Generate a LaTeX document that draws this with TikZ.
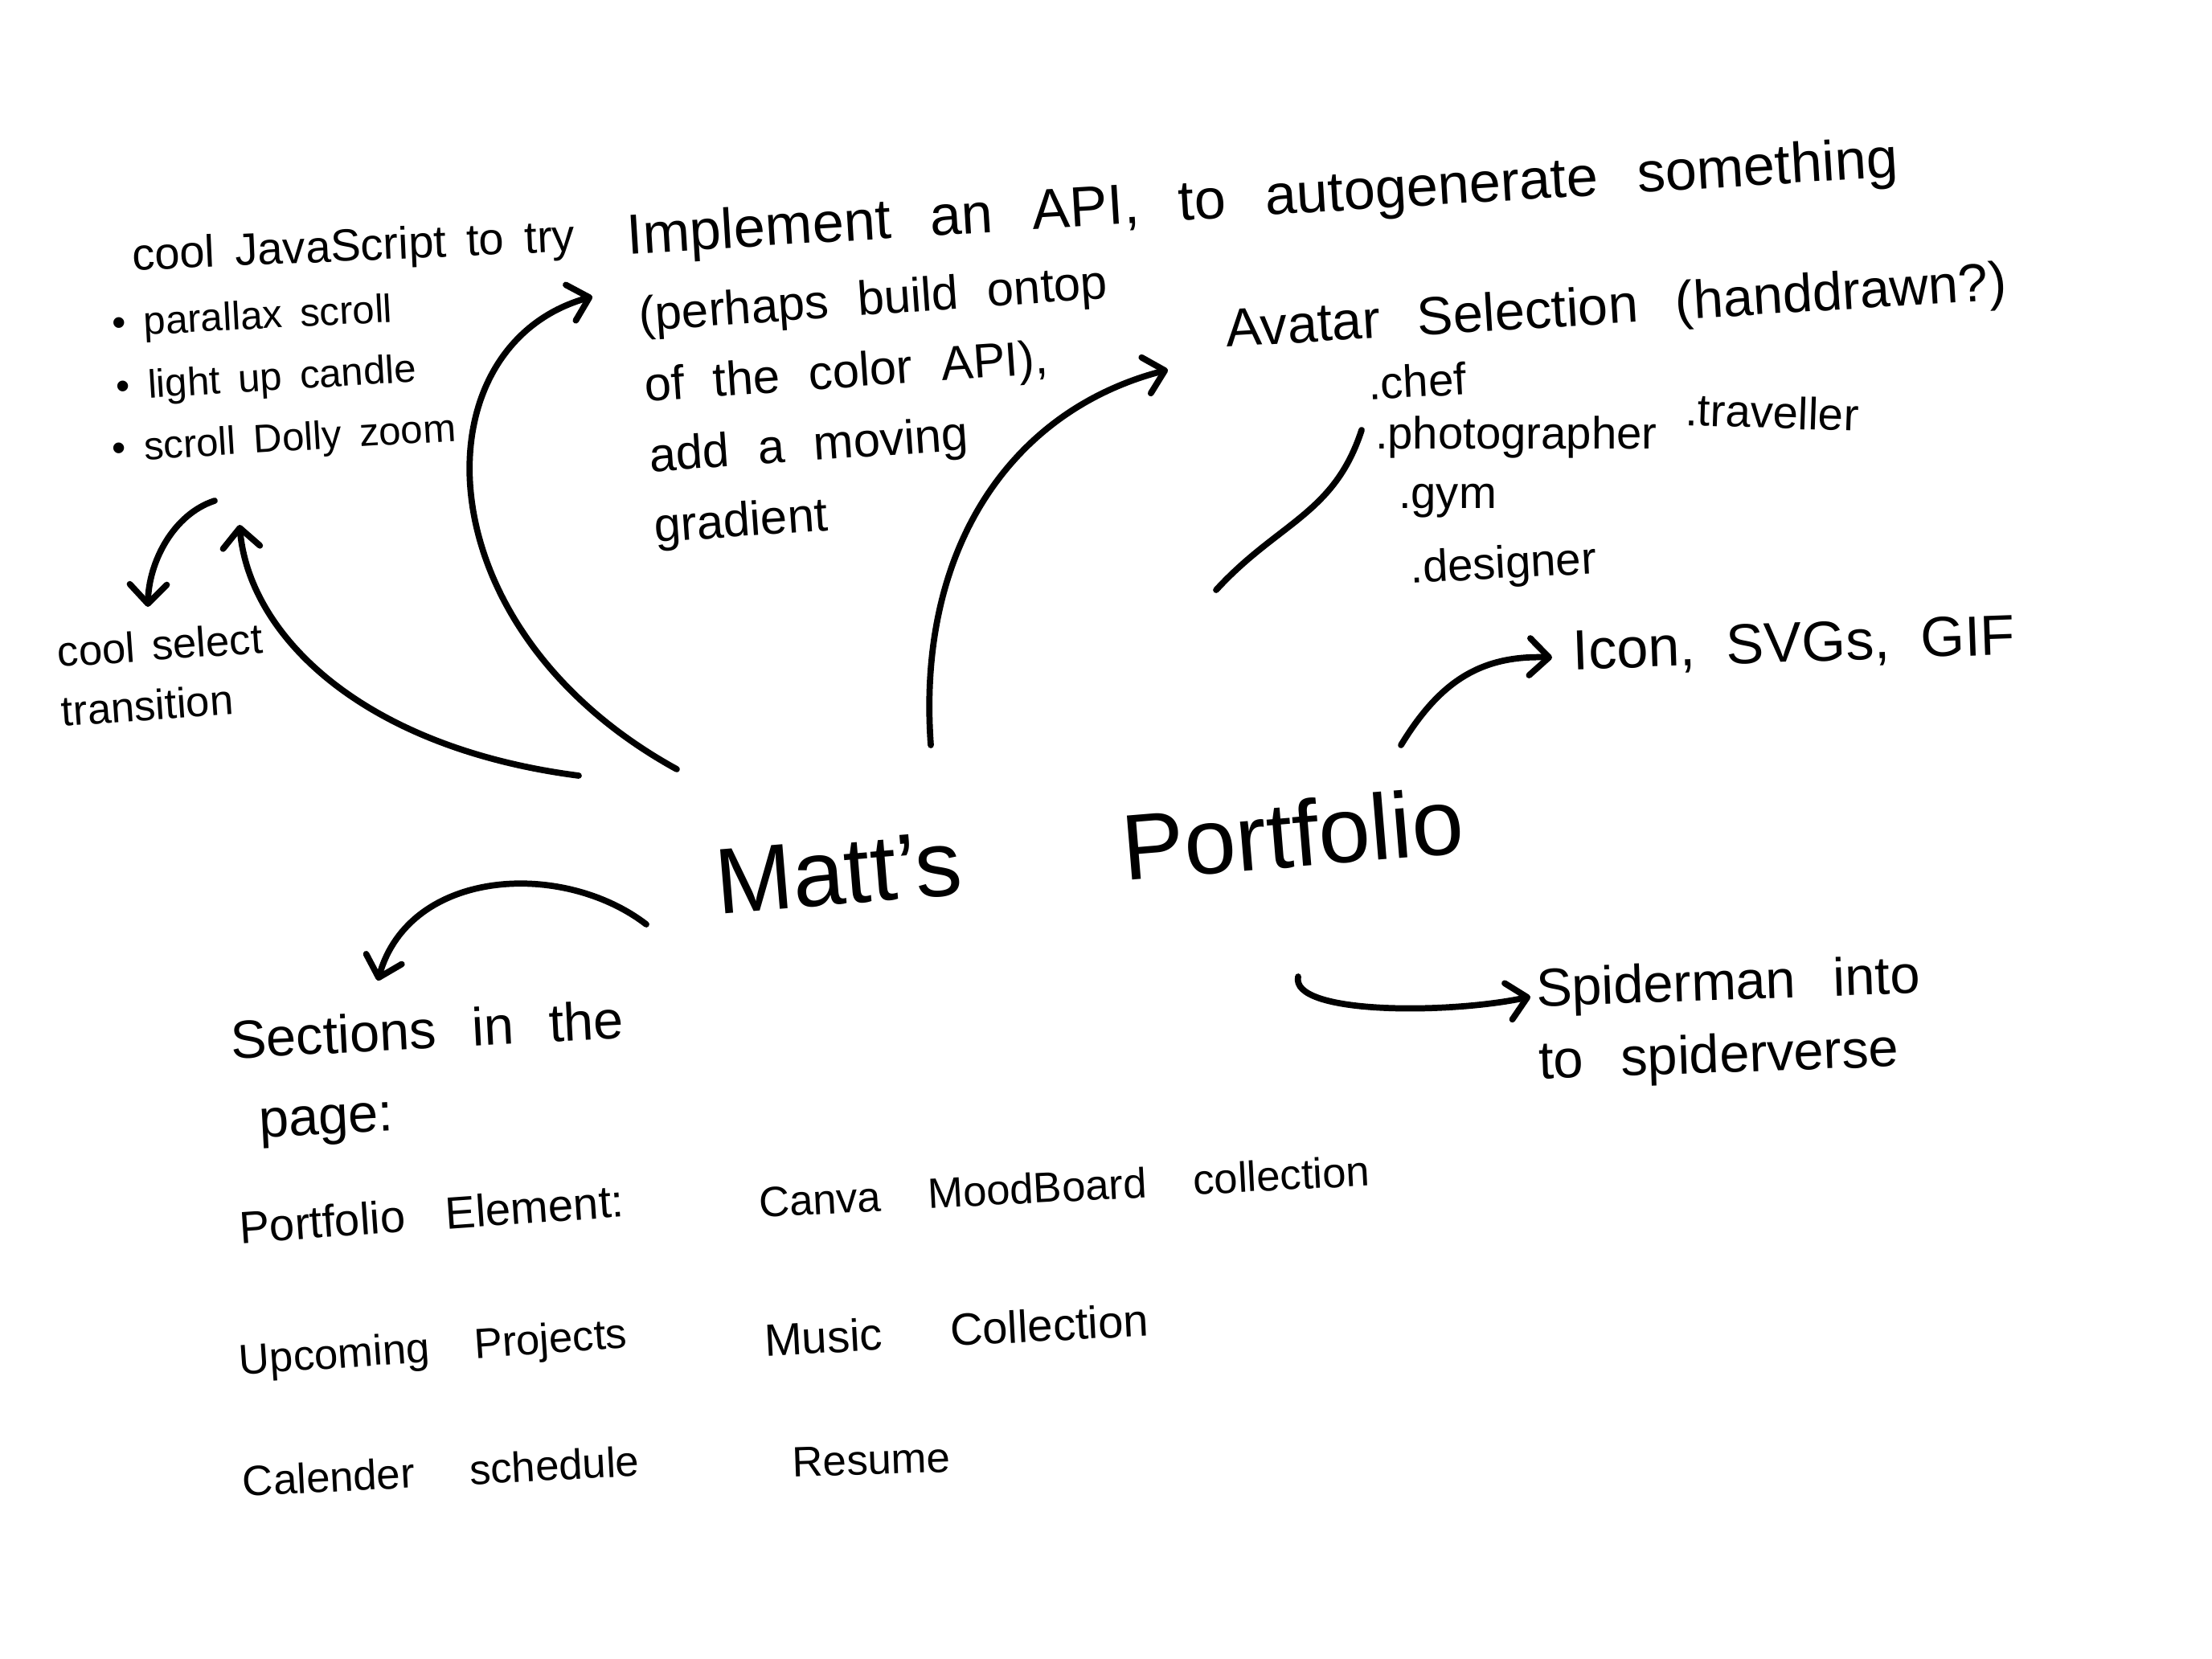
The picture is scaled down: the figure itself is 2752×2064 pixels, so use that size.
\documentclass[tikz,border=0pt]{standalone}
\usepackage{fontspec}
\setmainfont{Liberation Sans}
\usetikzlibrary{arrows.meta}
\definecolor{ink}{HTML}{000000}
\begin{document}
\begin{tikzpicture}[x=0.01cm,y=-0.01cm,
  hw/.style n args={3}{inner sep=0pt, outer sep=0pt, text=ink,
    font={\fontsize{#1}{#2}\selectfont\spaceskip=#3\relax}},
  conn/.style={draw=ink, line width=2.2pt, line cap=round, line join=round},
  tip/.style={-{Straight Barb[round,length=0.24cm,width=0.46cm]}}]

\fill[white] (0,0) rectangle (2752,2064);
\useasboundingbox (0,0) rectangle (2752,2064);

% ---------- texts ----------
\node[hw={16}{19}{0.45em}, rotate=2.5] (js) at (440,310) {cool JavaScript to try};
\node[hw={14}{17}{0.45em}, anchor=west, rotate=3] (b1) at (140,406) {\textbullet\ parallax scroll};
\node[hw={14}{17}{0.45em}, anchor=west, rotate=3.5] (b2) at (145,485) {\textbullet\ light up candle};
\node[hw={14}{17}{0.45em}, anchor=west, rotate=3.5] (b3) at (140,562) {\textbullet\ scroll Dolly zoom};
\node[hw={15}{21}{0.4em}, anchor=west, align=left, rotate=4] (sel) at (74,848) {cool select\\transition};

\node[hw={20}{24}{0.7em}, rotate=3.5] (api) at (1571,250) {Implement an API, to autogenerate something};
\node[hw={17}{25}{0.6em}, anchor=west, align=left, rotate=4] (grad) at (805,528)
  {(perhaps build ontop\\of the color API),\\add a moving\\gradient};

\node[hw={19}{23}{0.7em}, rotate=3.5] (av) at (2011,385) {Avatar Selection (handdrawn?)};
\node[hw={16}{19}{0.3em}, anchor=west, rotate=3] (chef) at (1702,477) {.chef};
\node[hw={16}{19}{0.3em}, anchor=west] (photo) at (1711,544) {.photographer};
\node[hw={16}{19}{0.3em}, anchor=west, rotate=-2] (trav) at (2097,509) {.traveller};
\node[hw={16}{19}{0.3em}, anchor=west] (gym) at (1740,623) {.gym};
\node[hw={16}{19}{0.3em}, anchor=west, rotate=3] (des) at (1755,711) {.designer};

\node[hw={20}{24}{0.55em}, anchor=west, rotate=2] (icon) at (1957,813) {Icon, SVGs, GIF};

\node[hw={33}{40}{57pt}, rotate=4.7] (title) at (1355,1058) {Matt's Portfolio};

\node[hw={19}{28.5}{0.66em}, anchor=west, align=left, rotate=3] (sec) at (290,1350) {Sections in the\\\hspace{0.3cm}page:};
\node[hw={19}{25.6}{0.7em}, anchor=west, align=left, rotate=2] (spider) at (1913,1280) {Spiderman into\\to spiderverse};

\node[hw={16}{19}{0.9em}, anchor=west, rotate=4] (pe) at (298,1527) {Portfolio Element:};
\node[hw={15}{18}{1.1em}, anchor=west, rotate=3] (canva) at (944,1496) {Canva MoodBoard collection};
\node[hw={15}{18}{1.05em}, anchor=west, rotate=4] (up) at (298,1697) {Upcoming Projects};
\node[hw={16}{19}{1.5em}, anchor=west, rotate=3] (music) at (951,1667) {Music Collection};
\node[hw={15}{18}{1.3em}, anchor=west, rotate=3] (cal) at (302,1843) {Calender schedule};
\node[hw={15}{18}{0.5em}, anchor=west, rotate=2] (res) at (986,1820) {Resume};

% ---------- connector ends ----------
\coordinate (a1s) at (720,965);   \coordinate (a1e) at (298,653);
\coordinate (a2s) at (842,957);   \coordinate (a2e) at (737,369);
\coordinate (a3s) at (1158,927);  \coordinate (a3e) at (1453,460);
\coordinate (l4s) at (1513,734);  \coordinate (l4e) at (1694,535);
\coordinate (a5s) at (1743,927);  \coordinate (a5e) at (1931,818);
\coordinate (a6s) at (1615,1215); \coordinate (a6e) at (1904,1240);
\coordinate (a7s) at (804,1150);  \coordinate (a7e) at (470,1220);
\coordinate (a8s) at (267,623);   \coordinate (a8e) at (184,755);

% ---------- connectors ----------
\draw[conn,tip] (a1s) .. controls (450,930) and (310,790) .. (a1e);
\draw[conn,tip] (a2s) .. controls (520,780) and (520,430) .. (a2e);
\draw[conn,tip] (a3s) .. controls (1140,680) and (1260,510) .. (a3e);
\draw[conn] (l4s) .. controls (1590,650) and (1660,640) .. (l4e);
\draw[conn,tip] (a5s) .. controls (1790,850) and (1840,815) .. (a5e);
\draw[conn,tip] (a6s) .. controls (1605,1262) and (1800,1262) .. (a6e);
\draw[conn,tip] (a7s) .. controls (700,1070) and (510,1080) .. (a7e);
\draw[conn,tip] (a8s) .. controls (215,640) and (185,700) .. (a8e);
\end{tikzpicture}
\end{document}
